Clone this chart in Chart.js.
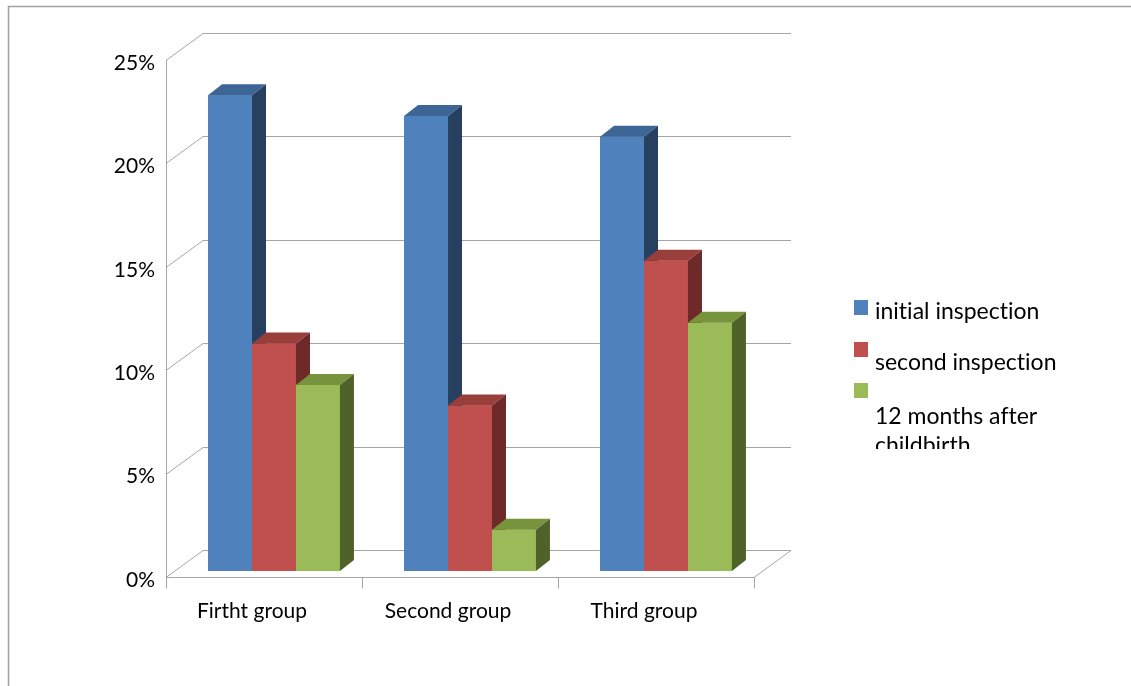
<!DOCTYPE html>
<html>
<head>
<meta charset="utf-8">
<script src="https://cdn.jsdelivr.net/npm/chart.js@4/dist/chart.umd.min.js"></script>
<style>
  html, body { margin: 0; padding: 0; background: #fff; overflow: hidden; }
  #wrap { position: relative; width: 1131px; height: 686px; }
  #legend { position: absolute; left: 850px; top: 292px; width: 270px; height: 157px; overflow: hidden;
            font-family: Lato, "Open Sans", sans-serif; font-size: 23px; color: #000;
            font-variant-ligatures: none; }
  .sw { position: absolute; left: 4px; width: 14px; height: 15px; }
  .lt { position: absolute; left: 25px; line-height: 29px; white-space: nowrap; }
</style>
</head>
<body>
<div id="wrap">
  <canvas id="myChart" width="1131" height="686"></canvas>
  <div id="legend"></div>
</div>
<script>
// data
var categories = ['Firtht group', 'Second group', 'Third group'];
var seriesNames = ['initial inspection', 'second inspection', '12 months after childbirth'];
var initialInspection = [23, 22, 21];
var secondInspection = [11, 8, 15];
var monthsAfter = [9, 2, 12];
var tickStep = 5;
var tickMax = 25;

// colours: front, top, side
var faceColors = [
  ['#4F81BD', '#3D6697', '#27405F'],
  ['#C0504D', '#9A3E3B', '#6E2A28'],
  ['#9BBB59', '#77933C', '#4F6229']
];

var FONT = '21px Lato, "Open Sans", sans-serif';
var front = { dx: -10, dy: 6 };   // front plane relative to bar plane
var back = { dx: 27, dy: -21 };   // back wall relative to bar plane
var depth = { dx: 14, dy: -11 };  // bar depth

var threeD = {
  id: 'threeD',
  beforeDatasetsDraw: function(chart) {
    var ctx = chart.ctx, a = chart.chartArea;
    var xs = chart.scales.x, ys = chart.scales.y;
    ctx.save();
    // outer frame
    ctx.strokeStyle = '#a0a0a0';
    ctx.lineWidth = 1.5;
    ctx.beginPath();
    ctx.moveTo(8.5, 686); ctx.lineTo(8.5, 6.5); ctx.lineTo(1131, 6.5);
    ctx.stroke();

    ctx.strokeStyle = '#a6a6a6';
    ctx.lineWidth = 1;
    ys.ticks.forEach(function(t) {
      var y = Math.round(ys.getPixelForValue(t.value));
      ctx.beginPath();
      ctx.moveTo(a.left + front.dx, y + front.dy + 0.5);
      ctx.lineTo(a.left + back.dx, y + back.dy + 0.5);
      ctx.lineTo(a.right + back.dx, y + back.dy + 0.5);
      ctx.stroke();
    });
    // floor front edge and right diagonal
    var y0 = Math.round(ys.getPixelForValue(0)) + 0.5;
    ctx.beginPath();
    ctx.moveTo(a.left + front.dx, y0 + front.dy);
    ctx.lineTo(a.right + front.dx, y0 + front.dy);
    ctx.lineTo(a.right + back.dx, y0 + back.dy);
    ctx.stroke();
    // front vertical axis
    var yTop = Math.round(ys.getPixelForValue(tickMax));
    ctx.beginPath();
    ctx.moveTo(a.left + front.dx + 0.5, yTop + front.dy);
    ctx.lineTo(a.left + front.dx + 0.5, y0 + front.dy + 11);
    ctx.stroke();
    // category ticks
    var w = (a.right - a.left) / categories.length;
    for (var i = 1; i <= categories.length; i++) {
      var x = Math.round(a.left + w * i + front.dx) + 0.5;
      ctx.beginPath();
      ctx.moveTo(x, y0 + front.dy);
      ctx.lineTo(x, y0 + front.dy + 11);
      ctx.stroke();
    }
    // tick labels
    ctx.fillStyle = '#000';
    ctx.font = FONT;
    ctx.textAlign = 'right';
    ctx.textBaseline = 'middle';
    ys.ticks.forEach(function(t) {
      var y = ys.getPixelForValue(t.value) + front.dy + 3;
      ctx.fillText(t.value + '%', a.left + front.dx - 11, y);
    });
    ctx.textAlign = 'center';
    categories.forEach(function(c, i) {
      ctx.fillText(c, xs.getPixelForValue(i) - 22, y0 + front.dy + 34);
    });
    ctx.restore();
  },
  afterDatasetsDraw: function(chart) {
    var ctx = chart.ctx;
    ctx.save();
    chart.data.datasets.forEach(function(ds, d) {
      var meta = chart.getDatasetMeta(d);
      meta.data.forEach(function(bar) {
        var l = bar.x - bar.width / 2, r = bar.x + bar.width / 2;
        var t = bar.y, b = bar.base;
        var c = faceColors[d];
        ctx.fillStyle = c[0];
        ctx.fillRect(l, t, r - l, b - t);
        ctx.fillStyle = c[1];
        ctx.beginPath();
        ctx.moveTo(l, t); ctx.lineTo(l + depth.dx, t + depth.dy);
        ctx.lineTo(r + depth.dx, t + depth.dy); ctx.lineTo(r, t);
        ctx.closePath(); ctx.fill();
        ctx.fillStyle = c[2];
        ctx.beginPath();
        ctx.moveTo(r, t); ctx.lineTo(r + depth.dx, t + depth.dy);
        ctx.lineTo(r + depth.dx, b + depth.dy); ctx.lineTo(r, b);
        ctx.closePath(); ctx.fill();
      });
    });
    ctx.restore();
  }
};

var ctx = document.getElementById('myChart').getContext('2d');
var myChart = new Chart(ctx, {
  type: 'bar',
  data: {
    labels: categories,
    datasets: [
      { label: seriesNames[0], data: initialInspection, backgroundColor: faceColors[0][0] },
      { label: seriesNames[1], data: secondInspection, backgroundColor: faceColors[1][0] },
      { label: seriesNames[2], data: monthsAfter, backgroundColor: faceColors[2][0] }
    ]
  },
  options: {
    responsive: false,
    animation: false,
    layout: { padding: { left: 176, right: 367, top: 54, bottom: 115 } },
    datasets: { bar: { categoryPercentage: 0.673, barPercentage: 1 } },
    scales: {
      x: { display: false },
      y: { display: false, min: 0, max: tickMax, ticks: { stepSize: tickStep } }
    },
    plugins: { legend: { display: false }, tooltip: { enabled: false } }
  },
  plugins: [threeD]
});

// legend (html)
var legendTops = [[8, 4], [50, 55], [91, 109]];
var lg = document.getElementById('legend');
seriesNames.forEach(function(name, i) {
  var sw = document.createElement('div');
  sw.className = 'sw';
  sw.style.top = legendTops[i][0] + 'px';
  sw.style.background = faceColors[i][0];
  lg.appendChild(sw);
  var tx = document.createElement('div');
  tx.className = 'lt';
  tx.style.top = legendTops[i][1] + 'px';
  tx.innerHTML = i === 2 ? '12 months after<br>childbirth' : name;
  lg.appendChild(tx);
});
</script>
</body>
</html>
